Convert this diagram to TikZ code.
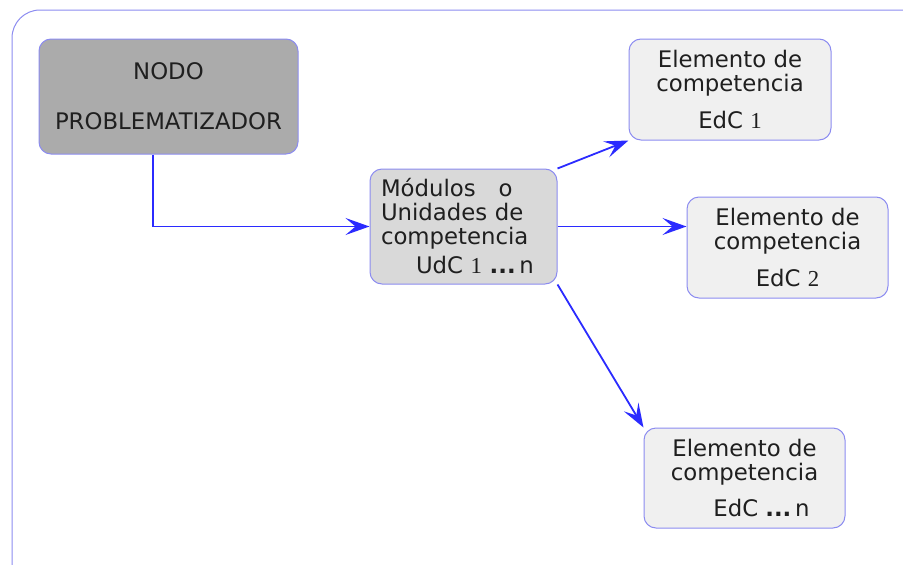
\documentclass[tikz,border=0pt]{standalone}
\usepackage{fontspec}
\setmainfont{DejaVu Sans}
\newfontfamily\cifra{Liberation Serif}
\usepackage{tikz}
\usetikzlibrary{arrows.meta}
\usetikzlibrary{positioning}
\definecolor{borde}{HTML}{8C8CF0}
\definecolor{flechaazul}{HTML}{2B2BFF}
\definecolor{grisnodo}{HTML}{ABABAB}
\definecolor{grismod}{HTML}{D9D9D9}
\definecolor{grisedc}{HTML}{F0F0F0}

\begin{document}
\begin{tikzpicture}[x=1pt,y=-1pt,
  every node/.style={font=\fontsize{22.8}{24}\selectfont,text=black!88},
  caja/.style={draw=borde,line width=1pt,rounded corners=12pt,inner sep=0pt},
  flecha/.style={draw=flechaazul,line width=1.8pt,-{Stealth[length=24pt,width=17pt,inset=10pt]}}]

  \clip (0,0) rectangle (903,565);
  % marco
  \draw[borde,line width=1pt,rounded corners=28pt] (12,10) rectangle (940,600);

  % nodo problematizador
  \node[caja,fill=grisnodo,minimum width=259pt,minimum height=115pt,align=center]
    (nodo) at (168.5,96.5) {NODO\hspace{22pt}\\[26pt]PROBLEMATIZADOR};

  % modulos
  \node[caja,fill=grismod,minimum height=115pt,text width=165pt,inner xsep=11pt,align=left]
    (mod) at (463.5,226.5) {M\'odulos \ \ o\\Unidades de\\competencia\\[5pt]
    \hspace*{35pt}UdC {\cifra 1} \textbf{...}\,n};

  % elementos de competencia
  \node[caja,fill=grisedc,minimum width=202pt,minimum height=101pt,align=center]
    (edc1) at (730,89.5) {Elemento de\\competencia\\[13pt]EdC {\cifra 1}};
  \node[caja,fill=grisedc,minimum width=201pt,minimum height=101pt,align=center]
    (edc2) at (787.5,247.5) {Elemento de\\competencia\\[13pt]EdC {\cifra 2}};
  \node[caja,fill=grisedc,minimum width=201pt,minimum height=100pt,align=center]
    (edcn) at (744.5,478) {Elemento de\\competencia\\[12pt]\hspace*{34pt}EdC \textbf{...}\,n};

  % conexiones
  \draw[flecha] ([xshift=-15.5pt]nodo.south) |- (mod.west);
  \draw[flecha] (mod.north east) -- (edc1.south west);
  \draw[flecha] (mod.east) -- (mod.east -| edc2.west);
  \draw[flecha] (mod.south east) -- (edcn.north west);

\end{tikzpicture}
\end{document}
